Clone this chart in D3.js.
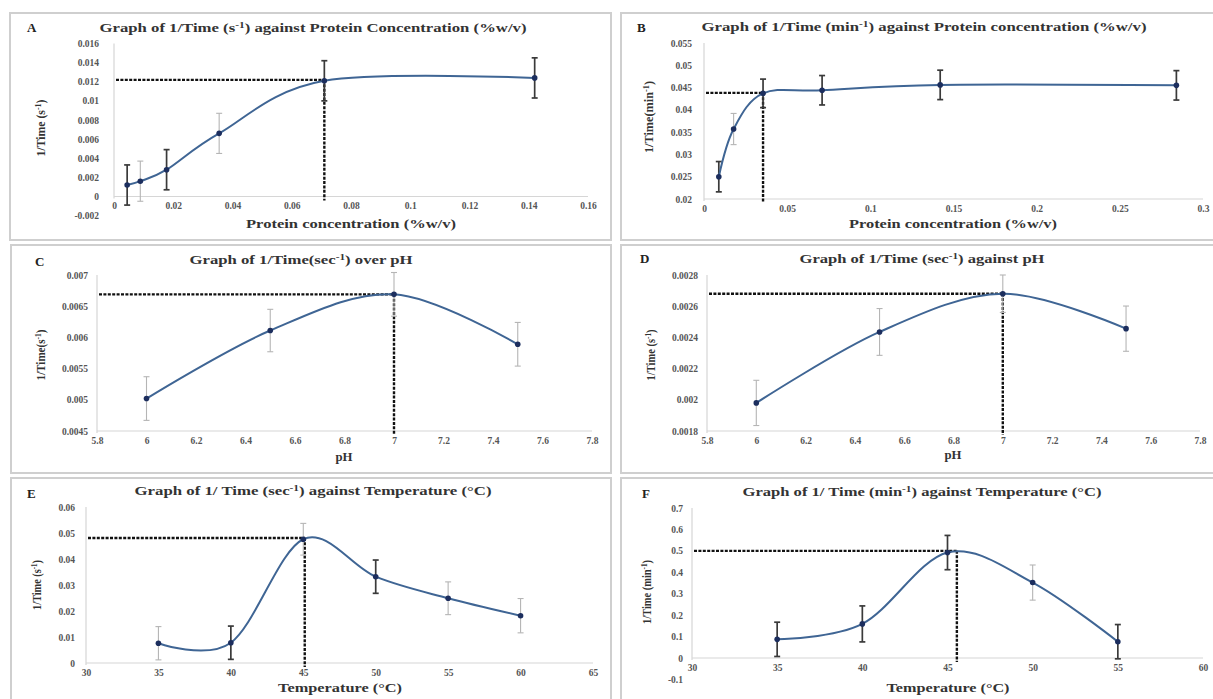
<!DOCTYPE html>
<html>
<head>
<meta charset="utf-8">
<script src="https://cdn.jsdelivr.net/npm/d3@7"></script>
<style>
  body { margin: 0; background: #fff; }
  svg { display: block; }
  text { font-family: "Liberation Serif", "Times New Roman", serif; }
</style>
</head>
<body>
<svg width="1213" height="699"></svg>
<script>
// ---- data ----

// A: protein concentration, 1/time in s^-1
const concA = [0.00444, 0.00888, 0.01775, 0.0355, 0.071, 0.142];
const rateA = [0.0012, 0.0016, 0.0028, 0.0066, 0.0121, 0.0124];
const errA = [0.0021, 0.0021, 0.0021, 0.0021, 0.0021, 0.0021];
const peakA = [0.071, 0.0122];
const xTicksA = [0, 0.02, 0.04, 0.06, 0.08, 0.1, 0.12, 0.14, 0.16];
const yTicksA = [-0.002, 0, 0.002, 0.004, 0.006, 0.008, 0.01, 0.012, 0.014, 0.016];

// B: protein concentration, 1/time in min^-1
const concB = [0.0089, 0.0178, 0.0355, 0.071, 0.142, 0.284];
const rateB = [0.025, 0.0357, 0.0437, 0.0444, 0.0456, 0.0455];
const errB = [0.0034, 0.0035, 0.0032, 0.0033, 0.0033, 0.0033];
const peakB = [0.0355, 0.0438];
const xTicksB = [0, 0.05, 0.1, 0.15, 0.2, 0.25, 0.3];
const yTicksB = [0.02, 0.025, 0.03, 0.035, 0.04, 0.045, 0.05, 0.055];

// C and D: pH
const pH = [6, 6.5, 7, 7.5];
const rateC = [0.00502, 0.00611, 0.00669, 0.00589];
const errC = [0.00035, 0.00034, 0.00035, 0.00035];
const peakC = [7, 0.00669];
const rateD = [0.00198, 0.002435, 0.00268, 0.002456];
const errD = [0.000145, 0.00015, 0.00012, 0.000145];
const peakD = [7, 0.00268];
const xTicksPH = [5.8, 6, 6.2, 6.4, 6.6, 6.8, 7, 7.2, 7.4, 7.6, 7.8];
const yTicksC = [0.0045, 0.005, 0.0055, 0.006, 0.0065, 0.007];
const yTicksD = [0.0018, 0.002, 0.0022, 0.0024, 0.0026, 0.0028];

// E and F: temperature
const tempE = [35, 40, 45, 50, 55, 60];
const rateE = [0.0076, 0.0078, 0.0476, 0.0332, 0.0249, 0.0182];
const errE = [0.0064, 0.0064, 0.0061, 0.0064, 0.0063, 0.0066];
const peakE = [45.1, 0.0481];
const xTicksE = [30, 35, 40, 45, 50, 55, 60, 65];
const yTicksE = [0, 0.01, 0.02, 0.03, 0.04, 0.05, 0.06];

const tempF = [35, 40, 45, 50, 55];
const rateF = [0.087, 0.159, 0.492, 0.352, 0.076];
const errF = [0.08, 0.084, 0.08, 0.082, 0.08];
const peakF = [45.55, 0.5];
const xTicksF = [30, 35, 40, 45, 50, 55, 60];
const yTicksF = [-0.1, 0, 0.1, 0.2, 0.3, 0.4, 0.5, 0.6, 0.7];

// ---- layout / style (pixels) ----
const dark = "#3a3a3a", light = "#b5b5b5";

const panels = [
  { letter: "A", box: [10, 13, 601, 227],
    title: "Graph of 1/Time (s^-1^) against Protein Concentration (%w/v)", titleAt: [313, 32], titleW: 427,
    xLabel: "Protein concentration (%w/v)", xLabelAt: [351, 228], xLabelW: 210,
    yLabel: "1/Time (s^-1^)", yLabelAt: [45, 128], yLabelW: 57,
    letterAt: [27, 32],
    x: concA, y: rateA, err: errA, peak: peakA, tone: [dark, light, dark, light, dark, dark],
    xTicks: xTicksA, yTicks: yTicksA, base: 0,
    xRange: [114, 588], yRange: [215.6, 43.5], yPad: 15 },
  { letter: "B", box: [621, 13, 600, 227],
    title: "Graph of 1/Time (min^-1^) against Protein concentration (%w/v)", titleAt: [924, 31], titleW: 445,
    xLabel: "Protein concentration (%w/v)", xLabelAt: [953, 228], xLabelW: 208,
    yLabel: "1/Time(min^-1^)", yLabelAt: [653, 117], yLabelW: 72,
    letterAt: [637, 32],
    x: concB, y: rateB, err: errB, peak: peakB, tone: [dark, light, dark, dark, dark, dark],
    xTicks: xTicksB, yTicks: yTicksB, base: 0.02,
    xRange: [704, 1203], yRange: [199, 43], yPad: 12 },
  { letter: "C", box: [11, 245, 600, 228],
    title: "Graph of 1/Time(sec^-1^) over pH", titleAt: [301, 264], titleW: 223,
    xLabel: "pH", xLabelAt: [344, 461], xLabelW: 17,
    yLabel: "1/Time(s^-1^)", yLabelAt: [45, 355], yLabelW: 51,
    letterAt: [35, 266],
    x: pH, y: rateC, err: errC, peak: peakC, tone: [light, light, light, light],
    xTicks: xTicksPH, yTicks: yTicksC, base: 0.0045,
    xRange: [97, 592], yRange: [431, 275], yPad: 9 },
  { letter: "D", box: [621, 245, 600, 228],
    title: "Graph of 1/Time (sec^-1^) against pH", titleAt: [922, 263], titleW: 245,
    xLabel: "pH", xLabelAt: [953, 459], xLabelW: 17,
    yLabel: "1/Time (s^-1^)", yLabelAt: [655, 355], yLabelW: 51,
    letterAt: [640, 263],
    x: pH, y: rateD, err: errD, peak: peakD, tone: [light, light, light, light],
    xTicks: xTicksPH, yTicks: yTicksD, base: 0.0018,
    xRange: [707, 1200], yRange: [431, 275], yPad: 9 },
  { letter: "E", box: [11, 478, 600, 230],
    title: "Graph of 1/ Time (sec^-1^) against Temperature (°C)", titleAt: [313, 495], titleW: 357,
    xLabel: "Temperature (°C)", xLabelAt: [340, 692], xLabelW: 124,
    yLabel: "1/Time (s^-1^)", yLabelAt: [41, 585], yLabelW: 50,
    letterAt: [27, 498],
    x: tempE, y: rateE, err: errE, peak: peakE, tone: [light, dark, light, dark, light, light],
    xTicks: xTicksE, yTicks: yTicksE, base: 0,
    xRange: [86, 593], yRange: [663, 507], yPad: 11 },
  { letter: "F", box: [621, 478, 600, 230],
    title: "Graph of 1/ Time (min^-1^) against Temperature (°C)", titleAt: [922, 496], titleW: 359,
    xLabel: "Temperature (°C)", xLabelAt: [948, 692], xLabelW: 123,
    yLabel: "1/Time (min^-1^)", yLabelAt: [651, 592], yLabelW: 64,
    letterAt: [642, 498],
    x: tempF, y: rateF, err: errF, peak: peakF, tone: [dark, dark, dark, light, dark],
    xTicks: xTicksF, yTicks: yTicksF, base: 0,
    xRange: [692, 1203], yRange: [679.4, 508], yPad: 9 }
];

const svg = d3.select("svg");

// writes "a^-1^b" as text with a superscript part
function richText(sel, str) {
  str.split("^").forEach((part, i) => {
    const t = sel.append("tspan").text(part);
    if (i % 2 == 1) t.attr("baseline-shift", "super").attr("font-size", "68%");
  });
}

function drawPanel(p) {
  const g = svg.append("g");

  g.append("rect")
    .attr("x", p.box[0]).attr("y", p.box[1])
    .attr("width", p.box[2]).attr("height", p.box[3])
    .attr("fill", "none").attr("stroke", "#cfcfcf").attr("stroke-width", 2);

  const x = d3.scaleLinear().domain(d3.extent(p.xTicks)).range(p.xRange);
  const y = d3.scaleLinear().domain(d3.extent(p.yTicks)).range(p.yRange);

  // light axis lines
  g.append("line")
    .attr("x1", x.range()[0]).attr("x2", x.range()[0])
    .attr("y1", y.range()[1]).attr("y2", y(p.base) + 2)
    .attr("stroke", "#d6d6d6").attr("stroke-width", 1.2);
  g.append("line")
    .attr("x1", x.range()[0]).attr("x2", x.range()[1])
    .attr("y1", y(p.base)).attr("y2", y(p.base))
    .attr("stroke", "#d6d6d6").attr("stroke-width", 1.2);

  const yAxis = g.append("g")
    .attr("transform", `translate(${x.range()[0]},0)`)
    .call(d3.axisLeft(y).tickValues(p.yTicks).tickFormat(d => String(d)).tickSize(0).tickPadding(p.yPad));
  const xAxis = g.append("g")
    .attr("transform", `translate(0,${y(p.base)})`)
    .call(d3.axisBottom(x).tickValues(p.xTicks).tickFormat(d => String(d)).tickSize(0).tickPadding(6));
  [yAxis, xAxis].forEach(a => {
    a.select(".domain").remove();
    a.selectAll("text")
      .attr("font-family", "Liberation Serif, serif")
      .attr("font-size", 9.5).attr("font-weight", "bold").attr("fill", "#555");
  });

  // dashed guides to the optimum
  const dash = { stroke: "#111", "stroke-width": 2.4, "stroke-dasharray": "3 1.4" };
  const hLine = g.append("line")
    .attr("x1", x.range()[0] + 2).attr("x2", x(p.peak[0]))
    .attr("y1", y(p.peak[1])).attr("y2", y(p.peak[1]));
  const vLine = g.append("line")
    .attr("x1", x(p.peak[0])).attr("x2", x(p.peak[0]))
    .attr("y1", y(p.peak[1])).attr("y2", y(p.base) + 4);
  Object.entries(dash).forEach(([k, v]) => { hLine.attr(k, v); vLine.attr(k, v); });

  const pts = p.x.map((d, i) => ({ x: d, y: p.y[i], e: p.err[i], tone: p.tone[i] }));

  // error bars
  const eb = g.selectAll(".eb").data(pts).enter().append("g").attr("class", "eb")
    .attr("stroke", d => d.tone)
    .attr("stroke-width", d => d.tone == dark ? 1.7 : 1.1);
  eb.append("line")
    .attr("x1", d => x(d.x)).attr("x2", d => x(d.x))
    .attr("y1", d => y(d.y - d.e)).attr("y2", d => y(d.y + d.e));
  eb.append("line")
    .attr("x1", d => x(d.x) - 3).attr("x2", d => x(d.x) + 3)
    .attr("y1", d => y(d.y - d.e)).attr("y2", d => y(d.y - d.e));
  eb.append("line")
    .attr("x1", d => x(d.x) - 3).attr("x2", d => x(d.x) + 3)
    .attr("y1", d => y(d.y + d.e)).attr("y2", d => y(d.y + d.e));

  // smoothed line
  const line = d3.line().x(d => x(d.x)).y(d => y(d.y)).curve(d3.curveCardinal.tension(0));
  g.append("path").datum(pts)
    .attr("d", line)
    .attr("fill", "none").attr("stroke", "#3f6594").attr("stroke-width", 2);

  g.selectAll(".pt").data(pts).enter().append("circle").attr("class", "pt")
    .attr("cx", d => x(d.x)).attr("cy", d => y(d.y)).attr("r", 2.8)
    .attr("fill", "#1c2e5e");

  // texts
  g.append("text")
    .attr("x", p.letterAt[0]).attr("y", p.letterAt[1])
    .attr("font-size", 13).attr("font-weight", "bold").attr("fill", "#222")
    .text(p.letter);

  const title = g.append("text")
    .attr("x", p.titleAt[0] - p.titleW / 2).attr("y", p.titleAt[1])
    .attr("textLength", p.titleW).attr("lengthAdjust", "spacingAndGlyphs")
    .attr("font-size", 11.5).attr("font-weight", "bold").attr("fill", "#333");
  richText(title, p.title);

  const xl = g.append("text")
    .attr("x", p.xLabelAt[0] - p.xLabelW / 2).attr("y", p.xLabelAt[1])
    .attr("textLength", p.xLabelW).attr("lengthAdjust", "spacingAndGlyphs")
    .attr("font-size", 12).attr("font-weight", "bold").attr("fill", "#333");
  richText(xl, p.xLabel);

  const yl = g.append("text")
    .attr("transform", `translate(${p.yLabelAt[0]},${p.yLabelAt[1] + p.yLabelW / 2}) rotate(-90)`)
    .attr("textLength", p.yLabelW).attr("lengthAdjust", "spacingAndGlyphs")
    .attr("font-size", 12).attr("font-weight", "bold").attr("fill", "#333");
  richText(yl, p.yLabel);
}

panels.forEach(drawPanel);
</script>
</body>
</html>
